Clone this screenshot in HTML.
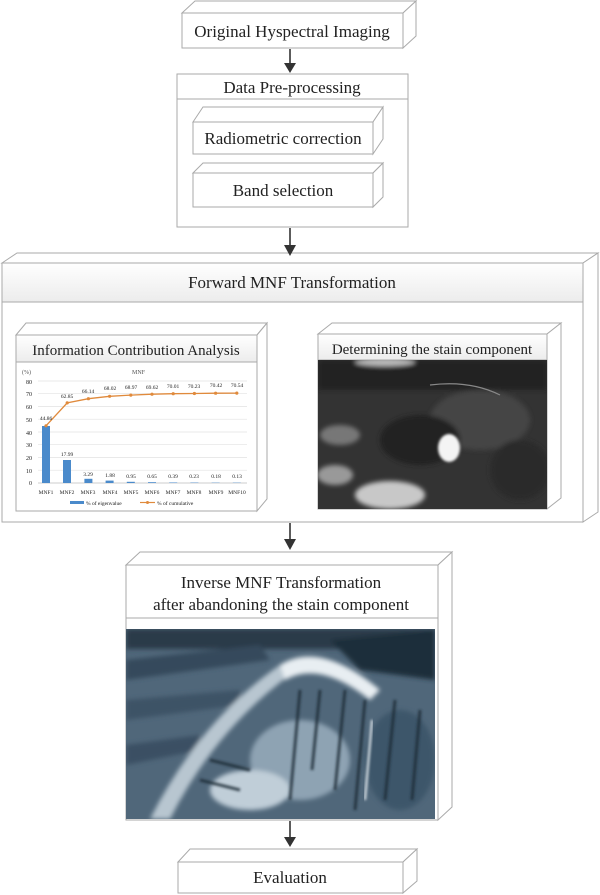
<!DOCTYPE html>
<html><head><meta charset="utf-8"><style>
html,body{margin:0;padding:0;background:#fff;}
svg{display:block;}
text{font-family:"Liberation Serif",serif;fill:#222;}
</style></head><body>
<svg width="600" height="895" viewBox="0 0 600 895" xmlns="http://www.w3.org/2000/svg">
<defs>
<linearGradient id="hd" x1="0" y1="0" x2="0" y2="1"><stop offset="0" stop-color="#ffffff"/><stop offset="1" stop-color="#ececec"/></linearGradient>
<filter id="bl" x="-10%" y="-10%" width="120%" height="120%"><feGaussianBlur stdDeviation="2.5"/></filter>
<filter id="bl2" x="-10%" y="-10%" width="120%" height="120%"><feGaussianBlur stdDeviation="1.2"/></filter>
<clipPath id="c1"><rect x="318" y="360" width="229" height="149"/></clipPath>
<clipPath id="c2"><rect x="126" y="629" width="309" height="190"/></clipPath>
</defs>
<g fill="#fff" stroke="#aaa" stroke-width="1">
<path d="M182,13 L195,1 L416,1 L403,13 Z"/><path d="M403,13 L416,1 L416,36 L403,48 Z"/>
<rect x="182" y="13" width="221" height="35"/>
<rect x="177" y="74" width="231" height="153"/><line x1="177" y1="99" x2="408" y2="99"/>
<path d="M193,122 L203,107 L383,107 L373,122 Z"/><path d="M373,122 L383,107 L383,139 L373,154 Z"/><rect x="193" y="122" width="180" height="32"/>
<path d="M193,173 L203,163 L383,163 L373,173 Z"/><path d="M373,173 L383,163 L383,197 L373,207 Z"/><rect x="193" y="173" width="180" height="34"/>
<path d="M2,263 L17,253 L598,253 L583,263 Z"/><path d="M583,263 L598,253 L598,512 L583,522 Z"/>
<rect x="2" y="263" width="581" height="259"/>
<rect x="2" y="263" width="581" height="39" fill="url(#hd)"/>
<path d="M16,335 L26,323 L267,323 L257,335 Z"/><path d="M257,335 L267,323 L267,499 L257,511 Z"/>
<rect x="16" y="335" width="241" height="176"/><rect x="16" y="335" width="241" height="27" fill="url(#hd)"/>
<path d="M318,334 L332,323 L561,323 L547,334 Z"/><path d="M547,334 L561,323 L561,498 L547,509 Z"/>
<rect x="318" y="334" width="229" height="175"/><rect x="318" y="334" width="229" height="26" fill="url(#hd)"/>
<path d="M126,565 L140,552 L452,552 L438,565 Z"/><path d="M438,565 L452,552 L452,807 L438,820 Z"/>
<rect x="126" y="565" width="312" height="255"/><line x1="126" y1="618" x2="438" y2="618"/>
<path d="M178,862 L190,849 L417,849 L403,862 Z"/><path d="M403,862 L417,849 L417,881 L403,893 Z"/>
<rect x="178" y="862" width="225" height="31"/>
</g>
<g stroke="#333" stroke-width="1.6" fill="none">
<line x1="290" y1="49" x2="290" y2="64"/>
<line x1="290" y1="228" x2="290" y2="246"/>
<line x1="290" y1="523" x2="290" y2="540"/>
<line x1="290" y1="821" x2="290" y2="838"/>
</g>
<g fill="#333">
<path d="M284,63 L296,63 L290,73 Z"/>
<path d="M284,245 L296,245 L290,256 Z"/>
<path d="M284,539 L296,539 L290,550 Z"/>
<path d="M284,837 L296,837 L290,847 Z"/>
</g>
<g font-size="17" text-anchor="middle">
<text x="292" y="37">Original Hyspectral Imaging</text>
<text x="292" y="93">Data Pre-processing</text>
<text x="283" y="144">Radiometric correction</text>
<text x="283" y="196">Band selection</text>
<text x="292" y="288">Forward MNF Transformation</text>
<text x="136" y="355" font-size="15">Information Contribution Analysis</text>
<text x="432" y="354" font-size="15">Determining  the stain component</text>
<text x="281" y="588">Inverse MNF Transformation</text>
<text x="281" y="610">after abandoning the stain component</text>
<text x="290" y="883">Evaluation</text>
</g>
<g font-size="6" fill="#555">
<text x="22" y="374" style="fill:#555">(%)</text>
<text x="132" y="374" style="fill:#555">MNF</text>
<g text-anchor="end" style="fill:#555">
<text x="32" y="384">80</text><text x="32" y="396">70</text><text x="32" y="409">60</text><text x="32" y="422">50</text><text x="32" y="435">40</text><text x="32" y="447">30</text><text x="32" y="460">20</text><text x="32" y="473">10</text><text x="32" y="485">0</text>
</g>
</g>
<g stroke="#e2e2e2" stroke-width="0.7">
<line x1="38" y1="381" x2="247" y2="381"/><line x1="38" y1="393.7" x2="247" y2="393.7"/><line x1="38" y1="406.5" x2="247" y2="406.5"/><line x1="38" y1="419.2" x2="247" y2="419.2"/><line x1="38" y1="432" x2="247" y2="432"/><line x1="38" y1="444.7" x2="247" y2="444.7"/><line x1="38" y1="457.5" x2="247" y2="457.5"/><line x1="38" y1="470.2" x2="247" y2="470.2"/><line x1="38" y1="483" x2="247" y2="483" stroke="#bbb"/>
</g>
<g fill="#4a8acb">
<rect x="42" y="426" width="8" height="57"/><rect x="63" y="460" width="8" height="23"/><rect x="84.4" y="478.8" width="8" height="4.2"/><rect x="105.6" y="480.6" width="8" height="2.4"/><rect x="126.8" y="481.8" width="8" height="1.2"/><rect x="148" y="482.2" width="8" height="0.8"/><rect x="169.2" y="482.5" width="8" height="0.5"/><rect x="190.4" y="482.6" width="8" height="0.4"/><rect x="211.6" y="482.7" width="8" height="0.3"/><rect x="232.8" y="482.7" width="8" height="0.3"/>
</g>
<polyline fill="none" stroke="#e08a3c" stroke-width="1.3" points="46,425.8 67.2,402.9 88.4,398.7 109.6,396.3 130.8,395.1 152,394.2 173.2,393.7 194.4,393.5 215.6,393.2 236.8,393.1"/>
<g fill="#e08a3c"><circle cx="46" cy="425.8" r="1.6"/><circle cx="67.2" cy="402.9" r="1.6"/><circle cx="88.4" cy="398.7" r="1.6"/><circle cx="109.6" cy="396.3" r="1.6"/><circle cx="130.8" cy="395.1" r="1.6"/><circle cx="152" cy="394.2" r="1.6"/><circle cx="173.2" cy="393.7" r="1.6"/><circle cx="194.4" cy="393.5" r="1.6"/><circle cx="215.6" cy="393.2" r="1.6"/><circle cx="236.8" cy="393.1" r="1.6"/></g>
<g font-size="5.5" text-anchor="middle">
<text x="46" y="420">44.86</text><text x="67" y="398">62.85</text><text x="88" y="393">66.14</text><text x="110" y="390">68.02</text><text x="131" y="389">68.97</text><text x="152" y="389">69.62</text><text x="173" y="388">70.01</text><text x="194" y="388">70.23</text><text x="216" y="387">70.42</text><text x="237" y="387">70.54</text>
<text x="67" y="456">17.99</text><text x="88" y="476">3.29</text><text x="110" y="477">1.88</text><text x="131" y="478">0.95</text><text x="152" y="478">0.65</text><text x="173" y="478">0.39</text><text x="194" y="478">0.23</text><text x="216" y="478">0.18</text><text x="237" y="478">0.13</text>
<text x="46" y="494">MNF1</text><text x="67" y="494">MNF2</text><text x="88" y="494">MNF3</text><text x="110" y="494">MNF4</text><text x="131" y="494">MNF5</text><text x="152" y="494">MNF6</text><text x="173" y="494">MNF7</text><text x="194" y="494">MNF8</text><text x="216" y="494">MNF9</text><text x="237" y="494">MNF10</text>
</g>
<rect x="70" y="501" width="14" height="3" fill="#4a8acb"/>
<text x="86" y="505" font-size="5.5">% of eigenvalue</text>
<line x1="140" y1="502.5" x2="155" y2="502.5" stroke="#e08a3c" stroke-width="1.2"/><circle cx="147.5" cy="502.5" r="1.5" fill="#e08a3c"/>
<text x="157" y="505" font-size="5.5">% of cumulative</text>
<g clip-path="url(#c1)">
<rect x="318" y="360" width="229" height="149" fill="#333"/>
<g filter="url(#bl)">
<rect x="318" y="360" width="229" height="30" fill="#222"/>
<ellipse cx="385" cy="362" rx="30" ry="4" fill="#bbb"/>
<ellipse cx="480" cy="420" rx="50" ry="30" fill="#444"/>
<ellipse cx="340" cy="435" rx="20" ry="10" fill="#777"/>
<ellipse cx="335" cy="475" rx="18" ry="10" fill="#999"/>
<ellipse cx="390" cy="495" rx="35" ry="14" fill="#c8c8c8"/>
<ellipse cx="420" cy="440" rx="40" ry="25" fill="#222"/>
<ellipse cx="520" cy="470" rx="30" ry="30" fill="#2a2a2a"/>
</g>
<ellipse cx="449" cy="448" rx="11" ry="14" fill="#f4f4f4" filter="url(#bl2)"/>
<path d="M430,385 Q470,380 500,395" stroke="#888" stroke-width="1.2" fill="none"/>
</g>
<g clip-path="url(#c2)">
<rect x="126" y="629" width="309" height="190" fill="#50677a"/>
<g filter="url(#bl)">
<rect x="126" y="629" width="309" height="20" fill="#2a3b4a"/>
<path d="M126,660 L260,645 L270,660 L126,680 Z" fill="#34495b"/>
<path d="M126,700 L240,690 L240,705 L126,720 Z" fill="#3c5266"/>
<path d="M126,745 L200,735 L200,750 L126,765 Z" fill="#3a5063"/>
<path d="M330,640 L435,630 L435,680 L360,670 Z" fill="#1f2e3b"/>
<path d="M150,819 Q200,720 280,665 L290,675 Q215,730 170,819 Z" fill="#b8c6d0"/>
<path d="M280,665 Q320,640 380,690 L370,700 Q320,660 285,680 Z" fill="#e8eef2"/>
<ellipse cx="300" cy="760" rx="50" ry="40" fill="#8ea3b3"/>
<ellipse cx="250" cy="790" rx="40" ry="20" fill="#c0ced8"/>
<ellipse cx="400" cy="760" rx="35" ry="50" fill="#3e566a"/>
</g>
<g stroke="#1d2a36" stroke-width="3" opacity="0.8" filter="url(#bl2)">
<line x1="300" y1="690" x2="290" y2="800"/><line x1="320" y1="690" x2="312" y2="770"/><line x1="345" y1="690" x2="335" y2="790"/><line x1="365" y1="700" x2="355" y2="810"/><line x1="395" y1="700" x2="385" y2="800"/><line x1="420" y1="710" x2="412" y2="800"/>
<line x1="200" y1="780" x2="240" y2="790"/><line x1="210" y1="760" x2="250" y2="770"/>
</g>
<line x1="372" y1="720" x2="365" y2="800" stroke="#e8eef2" stroke-width="2" filter="url(#bl2)"/>
</g>
</svg>
</body></html>
